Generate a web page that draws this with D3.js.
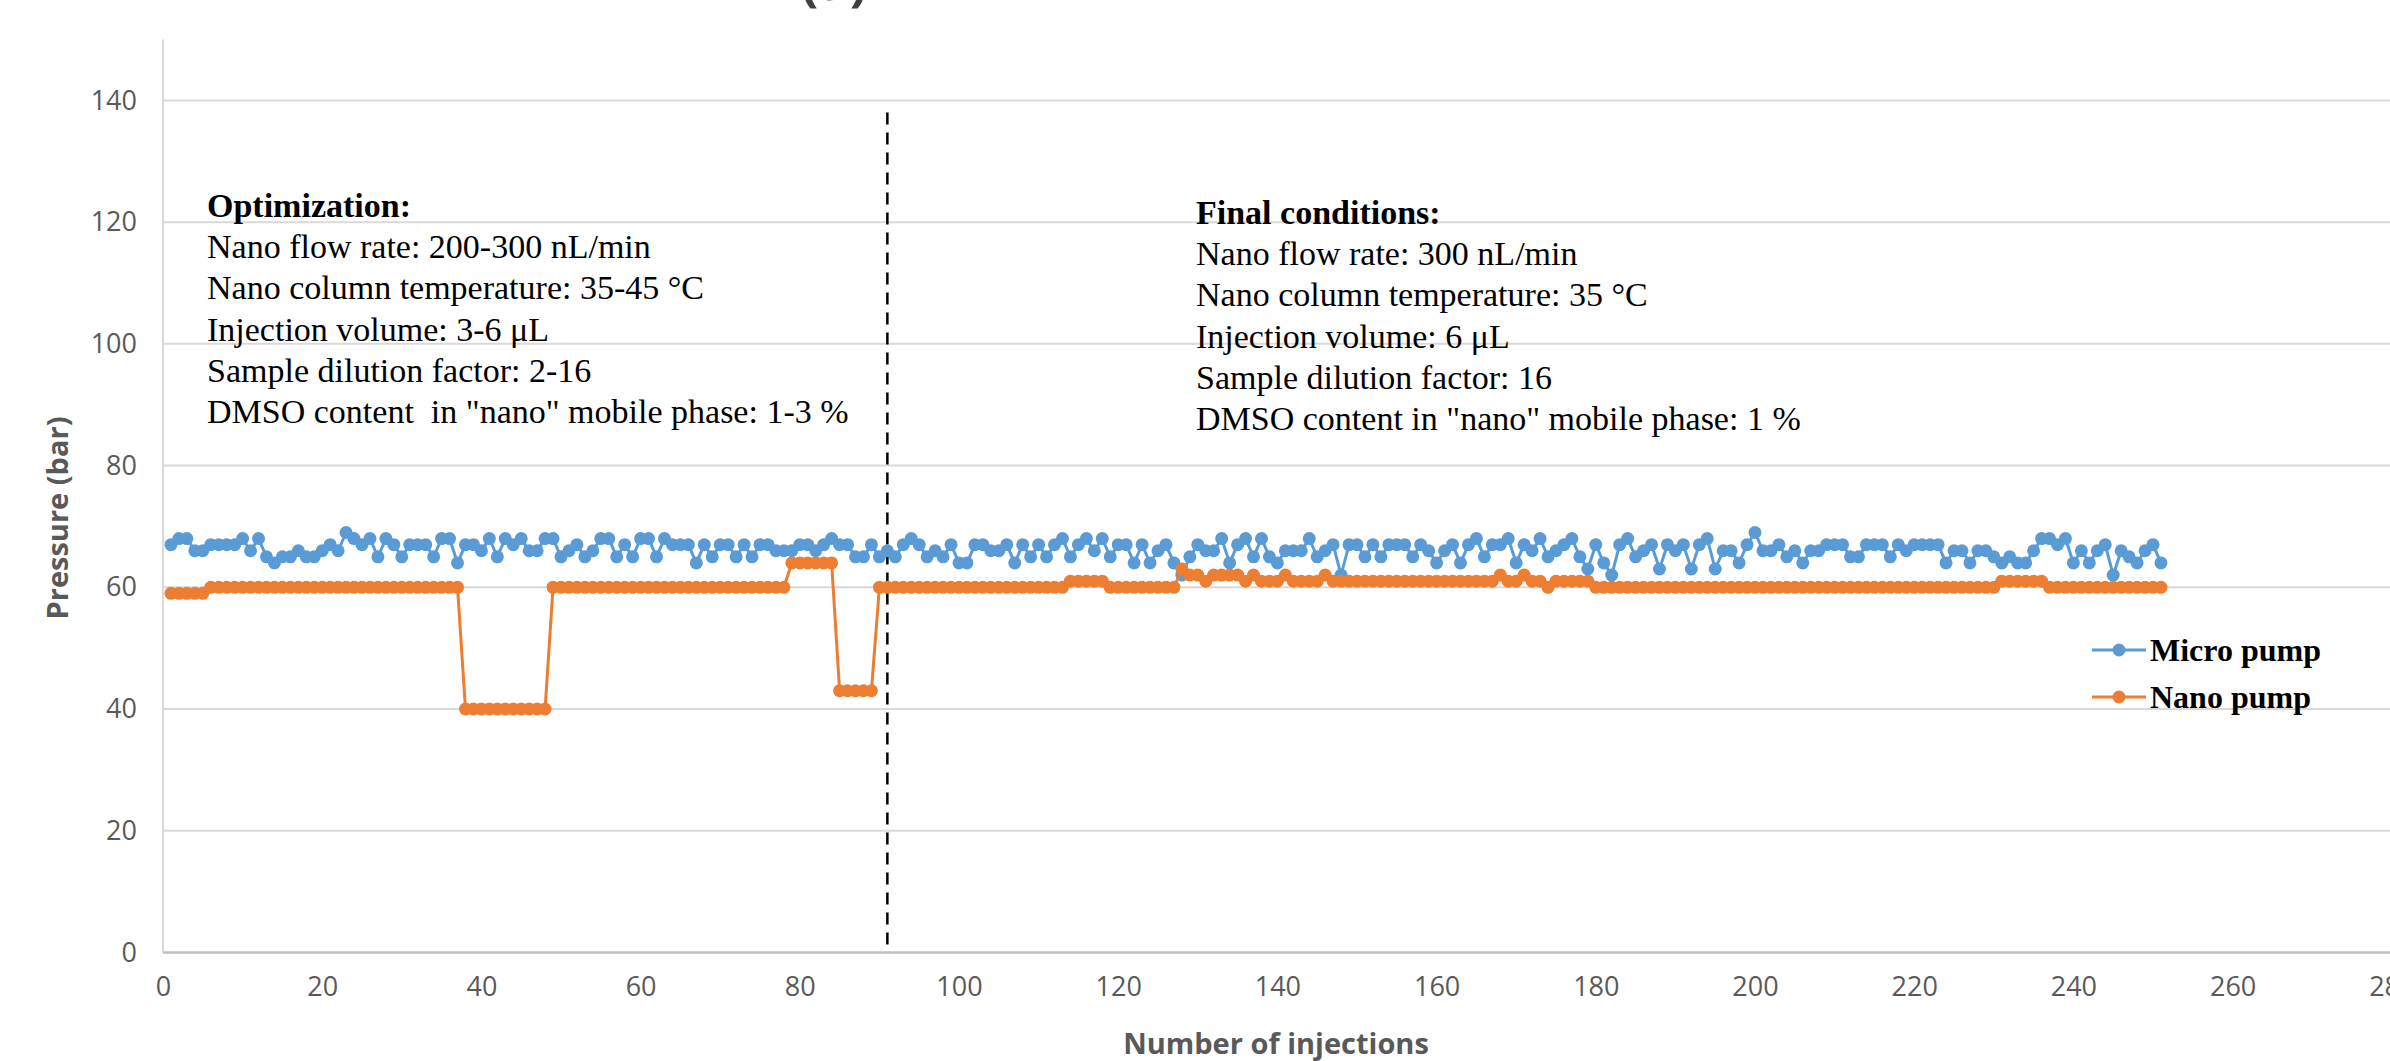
<!DOCTYPE html>
<html>
<head>
    <title>Pressure</title>
    <script src="https://cdnjs.cloudflare.com/ajax/libs/d3/7.8.5/d3.min.js"></script>
    <style>
        body {
            margin: 0;
            background: white;
        }
        .tick-label {
            font-family: "Open Sans", sans-serif;
            font-size: 27px;
            fill: #595959;
        }
        .axis-title {
            font-family: "Open Sans", sans-serif;
            font-weight: bold;
            font-size: 29px;
            fill: #595959;
        }
        .note {
            font-family: "Liberation Serif", serif;
            font-size: 34px;
            fill: #000;
            white-space: pre;
        }
        .legend-label {
            font-family: "Liberation Serif", serif;
            font-weight: bold;
            font-size: 32px;
            fill: #000;
        }
    </style>
</head>
<body>
    <div id="chart"></div>
    <script>
        // pressure (bar) per injection, injection number = index + 1
        const microPump = [
            67,68,68,66,66,67,67,67,67,68, 66,68,65,64,65,65,66,65,65,66,
            67,66,69,68,67,68,65,68,67,65, 67,67,67,65,68,68,64,67,67,66,
            68,65,68,67,68,66,66,68,68,65, 66,67,65,66,68,68,65,67,65,68,
            68,65,68,67,67,67,64,67,65,67, 67,65,67,65,67,67,66,66,66,67,
            67,66,67,68,67,67,65,65,67,65, 66,65,67,68,67,65,66,65,67,64,
            64,67,67,66,66,67,64,67,65,67, 65,67,68,65,67,68,66,68,65,67,
            67,64,67,64,66,67,64,62,65,67, 66,66,68,64,67,68,65,68,65,64,
            66,66,66,68,65,66,67,62,67,67, 65,67,65,67,67,67,65,67,66,64,
            66,67,64,67,68,65,67,67,68,64, 67,66,68,65,66,67,68,65,63,67,
            64,62,67,68,65,66,67,63,67,66, 67,63,67,68,63,66,66,64,67,69,
            66,66,67,65,66,64,66,66,67,67, 67,65,65,67,67,67,65,67,66,67,
            67,67,67,64,66,66,64,66,66,65, 64,65,64,64,66,68,68,67,68,64,
            66,64,66,67,62,66,65,64,66,67, 64
        ];
        const nanoPump = [
            59,59,59,59,59,60,60,60,60,60, 60,60,60,60,60,60,60,60,60,60,
            60,60,60,60,60,60,60,60,60,60, 60,60,60,60,60,60,60,40,40,40,
            40,40,40,40,40,40,40,40,60,60, 60,60,60,60,60,60,60,60,60,60,
            60,60,60,60,60,60,60,60,60,60, 60,60,60,60,60,60,60,60,64,64,
            64,64,64,64,43,43,43,43,43,60, 60,60,60,60,60,60,60,60,60,60,
            60,60,60,60,60,60,60,60,60,60, 60,60,60,61,61,61,61,61,60,60,
            60,60,60,60,60,60,60,63,62,62, 61,62,62,62,62,61,62,61,61,61,
            62,61,61,61,61,62,61,61,61,61, 61,61,61,61,61,61,61,61,61,61,
            61,61,61,61,61,61,61,62,61,61, 62,61,61,60,61,61,61,61,61,60,
            60,60,60,60,60,60,60,60,60,60, 60,60,60,60,60,60,60,60,60,60,
            60,60,60,60,60,60,60,60,60,60, 60,60,60,60,60,60,60,60,60,60,
            60,60,60,60,60,60,60,60,60,60, 61,61,61,61,61,61,60,60,60,60,
            60,60,60,60,60,60,60,60,60,60, 60
        ];
        const xTicks = [0, 20, 40, 60, 80, 100, 120, 140, 160, 180, 200, 220, 240, 260, 280];
        const yTicks = [0, 20, 40, 60, 80, 100, 120, 140];
        const seriesNames = ["Micro pump", "Nano pump"];
        const seriesColors = ["#5B9BD5", "#ED7D31"];
        const splitAt = 91; // end of optimization phase
        const optimizationLines = [
            "Nano flow rate: 200-300 nL/min",
            "Nano column temperature: 35-45 °C",
            "Injection volume: 3-6 μL",
            "Sample dilution factor: 2-16",
            "DMSO content  in \"nano\" mobile phase: 1-3 %"
        ];
        const finalLines = [
            "Nano flow rate: 300 nL/min",
            "Nano column temperature: 35 °C",
            "Injection volume: 6 μL",
            "Sample dilution factor: 16",
            "DMSO content in \"nano\" mobile phase: 1 %"
        ];

        const W = 2390, H = 1061;
        const svg = d3.select("#chart").append("svg")
            .attr("width", W)
            .attr("height", H);

        const x = d3.scaleLinear().domain([0, 280]).range([163, 2391.8]);
        const y = d3.scaleLinear().domain([0, 150]).range([952.4, 39.6]);

        // cut-off title at the very top
        svg.append("text")
            .attr("x", 834).attr("y", 0)
            .attr("text-anchor", "middle")
            .style("font-family", "Open Sans")
            .style("font-weight", "bold")
            .style("font-size", "52px")
            .attr("fill", "#404040")
            .text("(a)");

        // gridlines
        svg.append("g").selectAll("line")
            .data(yTicks.filter(d => d > 0))
            .join("line")
            .attr("x1", x(0)).attr("x2", W)
            .attr("y1", d => y(d)).attr("y2", d => y(d))
            .attr("stroke", "#d9d9d9")
            .attr("stroke-width", 2);

        // vertical axis line
        svg.append("line")
            .attr("x1", x(0)).attr("x2", x(0))
            .attr("y1", y(150)).attr("y2", y(0))
            .attr("stroke", "#d9d9d9")
            .attr("stroke-width", 2);

        // horizontal axis line
        svg.append("line")
            .attr("x1", x(0)).attr("x2", W)
            .attr("y1", y(0)).attr("y2", y(0))
            .attr("stroke", "#bfbfbf")
            .attr("stroke-width", 2.5);

        const yAxis = svg.append("g")
            .attr("transform", `translate(${x(0)},0)`)
            .call(d3.axisLeft(y).tickValues(yTicks).tickSize(0).tickPadding(26));
        yAxis.select(".domain").remove();
        yAxis.selectAll("text").attr("class", "tick-label");

        const xAxis = svg.append("g")
            .attr("transform", `translate(0,${y(0)})`)
            .call(d3.axisBottom(x).tickValues(xTicks).tickSize(0).tickPadding(24));
        xAxis.select(".domain").remove();
        xAxis.selectAll("text").attr("class", "tick-label");

        svg.append("text")
            .attr("class", "axis-title")
            .attr("x", 1276).attr("y", 1054)
            .attr("text-anchor", "middle")
            .text("Number of injections");

        svg.append("text")
            .attr("class", "axis-title")
            .attr("transform", "translate(68,518) rotate(-90)")
            .attr("text-anchor", "middle")
            .text("Pressure (bar)");

        // phase separator
        svg.append("line")
            .attr("x1", x(splitAt)).attr("x2", x(splitAt))
            .attr("y1", y(138)).attr("y2", y(0))
            .attr("stroke", "#000")
            .attr("stroke-width", 2.5)
            .attr("stroke-dasharray", "12,8");

        // series
        const line = d3.line()
            .x((d, i) => x(i + 1))
            .y(d => y(d));

        [microPump, nanoPump].forEach((values, k) => {
            const g = svg.append("g");
            g.append("path")
                .datum(values)
                .attr("d", line)
                .attr("fill", "none")
                .attr("stroke", seriesColors[k])
                .attr("stroke-width", 3);
            g.selectAll("circle")
                .data(values)
                .join("circle")
                .attr("cx", (d, i) => x(i + 1))
                .attr("cy", d => y(d))
                .attr("r", 6.5)
                .attr("fill", seriesColors[k]);
        });

        // annotations
        function noteBlock(left, top, heading, lines) {
            const t = svg.append("text").attr("class", "note");
            t.append("tspan")
                .attr("x", left).attr("y", top)
                .style("font-weight", "bold")
                .text(heading);
            lines.forEach((s, i) => {
                t.append("tspan")
                    .attr("x", left)
                    .attr("y", top + 41.2 * (i + 1))
                    .text(s);
            });
        }
        noteBlock(207, 217, "Optimization:", optimizationLines);
        noteBlock(1196, 224, "Final conditions:", finalLines);

        // legend
        const legend = svg.append("g");
        seriesNames.forEach((name, k) => {
            const ly = 650 + k * 47;
            legend.append("line")
                .attr("x1", 2092).attr("x2", 2146)
                .attr("y1", ly).attr("y2", ly)
                .attr("stroke", seriesColors[k])
                .attr("stroke-width", 3);
            legend.append("circle")
                .attr("cx", 2119).attr("cy", ly)
                .attr("r", 6.5)
                .attr("fill", seriesColors[k]);
            legend.append("text")
                .attr("class", "legend-label")
                .attr("x", 2150).attr("y", ly + 11)
                .text(name);
        });
    </script>
</body>
</html>
